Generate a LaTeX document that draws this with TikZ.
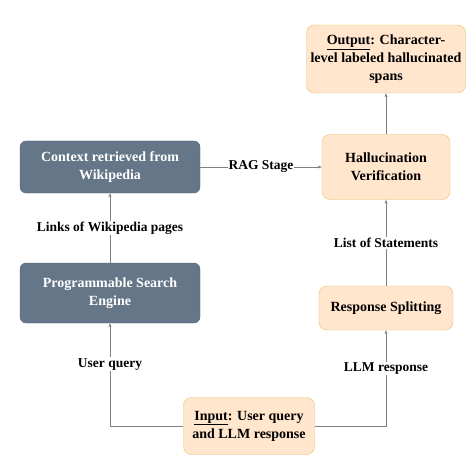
\documentclass[tikz,border=0pt]{standalone}
\usepackage{fontspec}
\setmainfont{Liberation Serif}
\usetikzlibrary{arrows.meta}
\definecolor{slatebox}{HTML}{647687}
\definecolor{slateline}{HTML}{56667A}
\definecolor{peachfill}{HTML}{FFE6CC}
\definecolor{peachline}{HTML}{E8BE6A}
\tikzset{
  darkbox/.style={draw=slateline, fill=slatebox, text=white, rounded corners=6pt,
    align=center, font=\fontsize{14}{18}\selectfont\bfseries, minimum width=180pt, inner sep=2pt},
  lightbox/.style={draw=peachline, fill=peachfill, text=black, rounded corners=8pt,
    align=center, font=\fontsize{14}{18}\selectfont\bfseries, inner sep=2pt},
  flow/.style={draw=gray, -{Stealth[length=4pt,width=3pt]}},
  tag/.style={fill=white, font=\fontsize{13.5}{16}\selectfont\bfseries, inner sep=1pt}
}
\begin{document}
\begin{tikzpicture}[x=1pt,y=-1pt]
  \useasboundingbox (0,0) rectangle (476,465);
  \draw
    (386,59) node[lightbox, minimum width=159pt, minimum height=68pt] (out)
      {\underline{Output}: Character-\\level labeled hallucinated\\spans}
    (110,167) node[darkbox, minimum height=52pt] (ctx)
      {Context retrieved from\\Wikipedia}
    (386,167) node[lightbox, minimum width=128pt, minimum height=65pt] (ver)
      {Hallucination\\Verification}
    (110,293) node[darkbox, minimum height=60pt] (pse)
      {Programmable Search\\Engine}
    (386,308) node[lightbox, minimum width=134pt, minimum height=44pt] (split)
      {Response Splitting}
    (249,426) node[lightbox, minimum width=131pt, minimum height=57pt] (in)
      {\underline{Input}: User query\\and LLM response};
  \begin{scope}[flow]
    \draw (in.west) -| node[tag, pos=0.8] {User query} (pse.south);
    \draw (in.east) -| node[tag, pos=0.8] {LLM response} (split.south);
    \draw (pse) to node[tag] {Links of Wikipedia pages} (ctx);
    \draw (split) to node[tag] {List of Statements} (ver);
    \draw (ctx) to node[tag] {RAG Stage} (ver);
    \draw (ver) to (out);
  \end{scope}
\end{tikzpicture}
\end{document}
